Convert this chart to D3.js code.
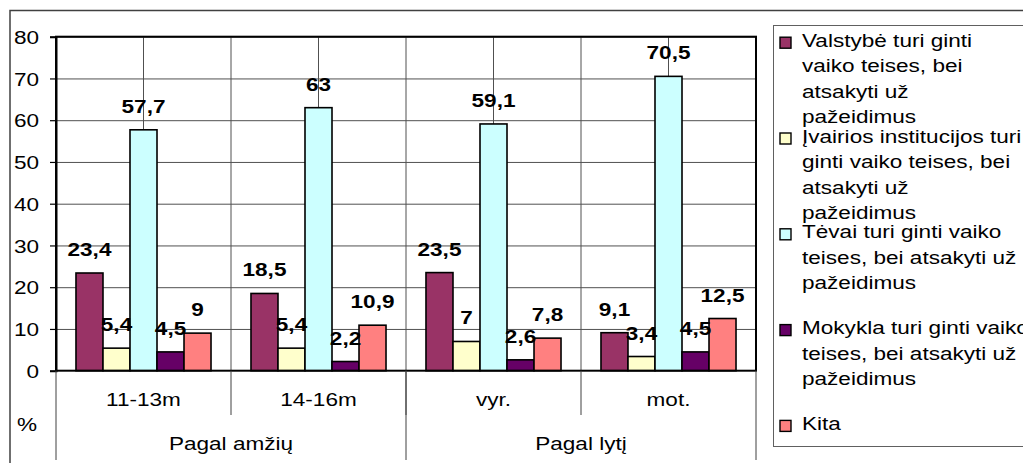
<!DOCTYPE html>
<html>
<head>
<meta charset="utf-8">
<script src="https://cdn.jsdelivr.net/npm/d3@7"></script>
<style>
  html, body { margin: 0; padding: 0; background: #fff; }
  svg { display: block; font-family: "Liberation Sans", Arial, sans-serif; }
</style>
</head>
<body>
<svg id="chart" width="1023" height="463"></svg>
<script>
// ---- data ----
const categories = ["11-13m", "14-16m", "vyr.", "mot."];
const groupLabels = ["Pagal amžių", "Pagal lytį"];
const groupSizes = [2, 2];
const seriesKeys = ["valstybe", "ivairios", "tevai", "mokykla", "kita"];
const seriesColors = ["#993366", "#FFFFCC", "#CCFFFF", "#660066", "#FF8080"];
const legendLines = [
  ["Valstybė turi ginti", "vaiko teises, bei", "atsakyti už", "pažeidimus"],
  ["Įvairios institucijos turi", "ginti vaiko teises, bei", "atsakyti už", "pažeidimus"],
  ["Tėvai turi ginti vaiko", "teises, bei atsakyti už", "pažeidimus"],
  ["Mokykla turi ginti vaiko", "teises, bei atsakyti už", "pažeidimus"],
  ["Kita"]
];
const valstybe = [23.4, 18.5, 23.5, 9.1];
const ivairios = [5.4, 5.4, 7, 3.4];
const tevai = [57.7, 63, 59.1, 70.5];
const mokykla = [4.5, 2.2, 2.6, 4.5];
const kita = [9, 10.9, 7.8, 12.5];
const yTicks = [0, 10, 20, 30, 40, 50, 60, 70, 80];
const yUnit = "%";

const seriesValues = [valstybe, ivairios, tevai, mokykla, kita];

// ---- layout ----
const SX = 1.22;         // horizontal stretch of text
const FS = 18.5;
const plot = { left: 56, right: 756, top: 36.7, bottom: 370.7 };

const svg = d3.select("#chart");

// outer frame
svg.append("rect")
  .attr("x", 10).attr("y", 10.5).attr("width", 1100).attr("height", 500)
  .attr("fill", "#fff").attr("stroke", "#404040").attr("stroke-width", 1.5);

const x = d3.scaleBand().domain(categories).range([plot.left, plot.right]).padding(0);
const xs = d3.scaleBand().domain(seriesKeys).range([0, x.bandwidth()])
  .paddingInner(0).paddingOuter(0.74);
const y = d3.scaleLinear().domain([0, 80]).range([plot.bottom, plot.top]);

function stretchedText(sel, tx, ty, str, anchor, weight) {
  return sel.append("text")
    .attr("transform", `translate(${tx},${ty}) scale(${SX},1)`)
    .attr("text-anchor", anchor)
    .attr("font-size", FS)
    .attr("font-weight", weight || "normal")
    .attr("fill", "#000")
    .text(str);
}

// horizontal gridlines
svg.append("g")
  .attr("transform", `translate(${plot.left},0)`)
  .call(d3.axisLeft(y).tickValues(yTicks.slice(1)).tickSize(-(plot.right - plot.left)).tickFormat(""))
  .call(g => g.select(".domain").remove())
  .call(g => g.selectAll("line").attr("stroke", "#505050").attr("stroke-width", 1));

// vertical gridlines: category centres and boundaries
const vLines = [];
categories.forEach((c, i) => {
  vLines.push(x(c) + x.bandwidth() / 2);
  if (i > 0) vLines.push(x(c));
});
svg.append("g").selectAll("line").data(vLines).join("line")
  .attr("x1", d => d).attr("x2", d => d)
  .attr("y1", plot.top).attr("y2", plot.bottom)
  .attr("stroke", "#505050").attr("stroke-width", 1);

// bars
const barData = [];
seriesKeys.forEach((k, si) => {
  categories.forEach((c, ci) => {
    barData.push({ key: k, cat: c, v: seriesValues[si][ci], color: seriesColors[si] });
  });
});
svg.append("g").selectAll("rect").data(barData).join("rect")
  .attr("x", d => x(d.cat) + xs(d.key))
  .attr("y", d => y(d.v))
  .attr("width", xs.bandwidth())
  .attr("height", d => y(0) - y(d.v))
  .attr("fill", d => d.color)
  .attr("stroke", "#000").attr("stroke-width", 1.6);

// plot border
svg.append("rect")
  .attr("x", plot.left).attr("y", plot.top)
  .attr("width", plot.right - plot.left).attr("height", plot.bottom - plot.top)
  .attr("fill", "none").attr("stroke", "#000").attr("stroke-width", 2);

// y axis
const yAxisG = svg.append("g")
  .attr("transform", `translate(${plot.left},0)`)
  .call(d3.axisLeft(y).tickValues(yTicks).tickSize(6).tickPadding(0).tickFormat(d3.format("d")));
yAxisG.select(".domain").attr("stroke", "#000").attr("stroke-width", 2);
yAxisG.selectAll(".tick line").attr("stroke", "#000").attr("stroke-width", 1.2);
yAxisG.selectAll(".tick text")
  .attr("x", -(plot.left - 39) / SX)
  .attr("dy", "0.36em")
  .attr("transform", `scale(${SX},1)`)
  .attr("font-size", FS)
  .attr("font-family", "Liberation Sans, Arial, sans-serif")
  .attr("fill", "#000");

// data labels
const fmt = v => String(v).replace(".", ",");
const lblG = svg.append("g");
barData.forEach(d => {
  stretchedText(lblG, x(d.cat) + xs(d.key) + xs.bandwidth() / 2, y(d.v) - 17, fmt(d.v), "middle", "bold");
});

// multi-level category axis
const catAxis = svg.append("g");
const lvl1Bottom = 415, lvl2Bottom = 460;
categories.forEach((c, i) => {
  stretchedText(catAxis, x(c) + x.bandwidth() / 2, 406, c, "middle");
  if (i > 0) {
    catAxis.append("line")
      .attr("x1", x(c)).attr("x2", x(c)).attr("y1", plot.bottom).attr("y2", lvl1Bottom)
      .attr("stroke", "#404040").attr("stroke-width", 1);
  }
});
let idx = 0;
const groupEdges = [plot.left];
groupLabels.forEach((g, gi) => {
  const first = categories[idx];
  const last = categories[idx + groupSizes[gi] - 1];
  const x0 = x(first), x1 = x(last) + x.bandwidth();
  stretchedText(catAxis, (x0 + x1) / 2, 450, g, "middle");
  groupEdges.push(x1);
  idx += groupSizes[gi];
});
groupEdges.forEach(e => {
  catAxis.append("line")
    .attr("x1", e).attr("x2", e).attr("y1", plot.bottom).attr("y2", lvl2Bottom)
    .attr("stroke", "#404040").attr("stroke-width", 1);
});
stretchedText(catAxis, 17, 431, yUnit, "start");

// legend
const legend = svg.append("g");
legend.append("rect")
  .attr("x", 773.5).attr("y", 25.5).attr("width", 300).attr("height", 421)
  .attr("fill", "#fff").attr("stroke", "#606060").attr("stroke-width", 1);
const entryStep = 95.8, lineStep = 25.5, firstBase = 46.7;
legendLines.forEach((lines, i) => {
  const base = firstBase + i * entryStep;
  legend.append("rect")
    .attr("x", 780).attr("y", base - 9.5).attr("width", 11).attr("height", 11)
    .attr("fill", seriesColors[i]).attr("stroke", "#000").attr("stroke-width", 1.4);
  lines.forEach((ln, j) => {
    stretchedText(legend, 802, base + j * lineStep, ln, "start");
  });
});
</script>
</body>
</html>
